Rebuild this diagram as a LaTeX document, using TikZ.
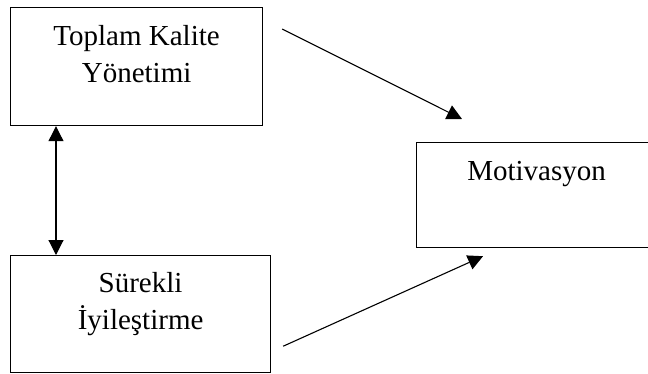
\documentclass[tikz,border=0pt]{standalone}
\usepackage{fontspec}
\setmainfont{Liberation Serif}
\usetikzlibrary{arrows.meta}

\tikzset{
	kutu/.style = {draw, line width=1.2pt, anchor=north west, align=center, inner xsep=0pt, inner ysep=18pt, font=\fontsize{29}{37}\selectfont},
	ok/.style = {line width=1.1pt, -{Triangle[width=15pt,length=15pt]}}
}

\begin{document}
\begin{tikzpicture}[x=1pt,y=-1pt]
	\useasboundingbox (0,0) rectangle (648,373);

	\node (tkm)[kutu, minimum width=252pt, text height=57pt, text depth=25pt] at(10,7) {Toplam Kalite\\Yönetimi};

	\node (si)[kutu, minimum width=260pt, inner ysep=17pt, text height=57pt, text depth=26pt] at(10,255) {Sürekli\\İyileştirme};

	\node (mot)[kutu, minimum width=240pt, text height=20pt, text depth=49pt] at(416,142) {Motivasyon};

	\draw [ok]([shift={(19,22)}]tkm.north east)--([shift={(46,-23)}]mot.north west);
	\draw [ok]([shift={(12,-27)}]si.south east)--([shift={(67,8)}]mot.south west);
	\draw [ok, {Triangle[width=15pt,length=15pt]}-{Triangle[width=15pt,length=15pt]}]([xshift=46pt]tkm.south west)--([xshift=46pt]si.north west);
\end{tikzpicture}
\end{document}
